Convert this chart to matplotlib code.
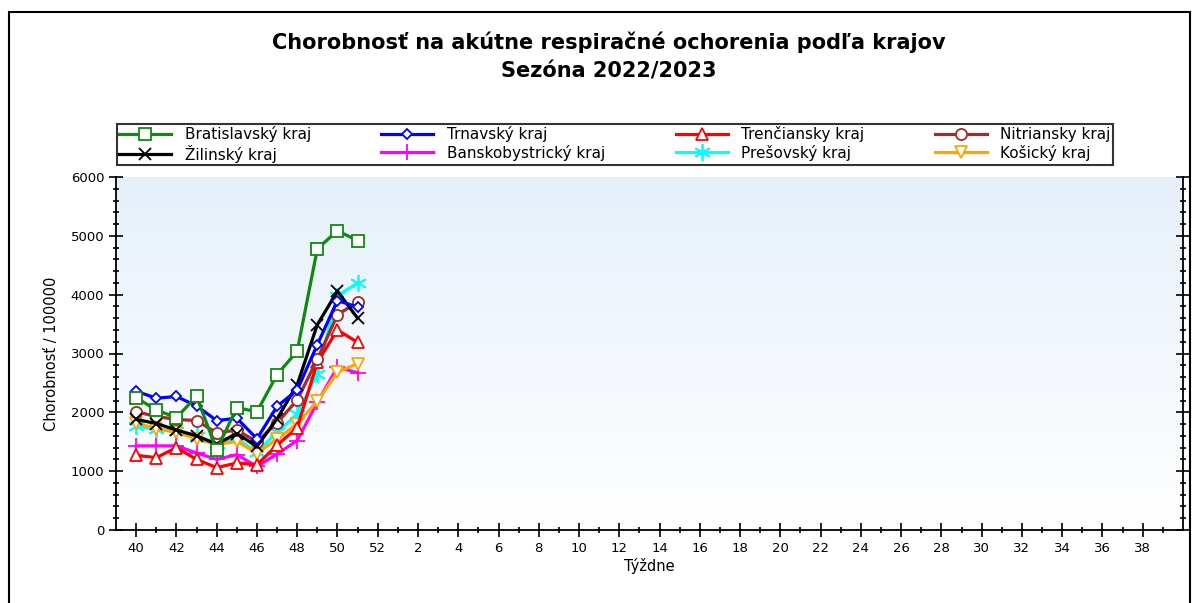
import matplotlib
matplotlib.use("Agg")
import matplotlib.pyplot as plt
import numpy as np
from matplotlib.patches import Rectangle
from matplotlib.colors import LinearSegmentedColormap

# ---- data ----
week_labels = [str(w) for w in list(range(40, 53)) + list(range(1, 40))]
regions = ["Bratislavský kraj", "Trnavský kraj", "Trenčiansky kraj", "Nitriansky kraj",
           "Žilinský kraj", "Banskobystrický kraj", "Prešovský kraj", "Košický kraj"]
bratislava = [2250, 2040, 1910, 2270, 1360, 2080, 2010, 2640, 3040, 4780, 5085, 4920]
trnava = [2360, 2240, 2270, 2110, 1860, 1900, 1550, 2100, 2380, 3150, 3900, 3790]
trencin = [1270, 1230, 1400, 1200, 1060, 1140, 1110, 1440, 1740, 2850, 3400, 3190]
nitra = [2010, 1930, 1880, 1860, 1650, 1700, 1500, 1820, 2210, 2900, 3660, 3870]
zilina = [1880, 1810, 1700, 1600, 1460, 1640, 1420, 1890, 2470, 3490, 4060, 3600]
banska = [1430, 1430, 1430, 1310, 1200, 1280, 1080, 1290, 1520, 2170, 2770, 2670]
presov = [1770, 1710, 1680, 1600, 1470, 1550, 1330, 1660, 1970, 2660, 3980, 4200]
kosice = [1820, 1720, 1660, 1550, 1450, 1510, 1300, 1550, 1800, 2190, 2680, 2830]

series = [bratislava, trnava, trencin, nitra, zilina, banska, presov, kosice]
colors = ["#118811", "#0000ff", "#ff0000", "#a52a2a", "#000000", "#ff00ff", "#00ffff", "#ffa500"]
markers = ["s", "D", "^", "o", "x", "+", (6, 2, 0), "v"]
msizes = [9, 5.5, 8.5, 8, 9, 11, 12, 8.5]
zorders = [10, 9, 5, 6, 8, 4, 3, 4]

fig = plt.figure(figsize=(11.96, 6.03), dpi=100)
fig.patch.set_facecolor("white")
fig.patches.append(Rectangle((9 / 1196, -0.01), (1190 - 9) / 1196, 1.0 - 12 / 603 + 0.01,
                             transform=fig.transFigure, fill=False, edgecolor="black", lw=1.5))

ax = fig.add_axes([116 / 1196, 1 - 530 / 603, (1183 - 116) / 1196, (530 - 177) / 603])
grad = np.linspace(0, 1, 256).reshape(-1, 1)
cmap = LinearSegmentedColormap.from_list("bg", ["#ffffff", "#e6f0fa"])
ax.imshow(grad, extent=[0, 1, 0, 1], transform=ax.transAxes, cmap=cmap,
          aspect="auto", origin="lower", zorder=0)

x = np.arange(len(week_labels))
handles = []
for name, vals, c, m, ms, z in zip(regions, series, colors, markers, msizes, zorders):
    xs = x[:len(vals)]
    filled = m not in ("x", "+", (6, 2, 0))
    h, = ax.plot(xs, vals, color=c, lw=2.3, marker=m, markersize=ms,
                 markerfacecolor="white" if filled else c, markeredgecolor=c,
                 markeredgewidth=1.3, zorder=z, label=name)
    handles.append(h)

ax.set_xlim(-1, 52)
ax.set_ylim(0, 6000)
ax.set_xticks(x[::2])
ax.set_xticklabels(week_labels[::2], fontsize=9.5)
ax.set_xticks(x, minor=True)
ax.set_yticks(np.arange(0, 6001, 1000))
ax.set_yticks(np.arange(0, 6001, 200), minor=True)
ax.tick_params(axis="y", labelsize=9.5, direction="inout", length=10, width=1.2)
ax.tick_params(axis="y", which="minor", direction="inout", length=5, width=1.2)
ax.tick_params(axis="x", labelsize=9.5, direction="inout", length=10, width=1.2)
ax.tick_params(axis="x", which="minor", direction="inout", length=5, width=1.2)
ax.tick_params(axis="y", which="both", right=True, labelright=False)
for s in ["left", "bottom", "right"]:
    ax.spines[s].set_linewidth(1.3)
ax.spines["top"].set_visible(False)

ax.set_ylabel("Chorobnosť / 100000", fontsize=10.5, labelpad=8)
ax.set_xlabel("Týždne", fontsize=10.5, labelpad=2)

fig.text(0.509, 0.93, "Chorobnosť na akútne respiračné ochorenia podľa krajov",
         ha="center", va="center", fontsize=15, fontweight="bold")
fig.text(0.509, 0.882, "Sezóna 2022/2023", ha="center", va="center", fontsize=15,
         fontweight="bold")

order = [0, 4, 1, 5, 2, 6, 3, 7]
leg = fig.legend([handles[i] for i in order], [regions[i] for i in order], ncol=4,
                 loc="lower left", bbox_to_anchor=(117 / 1196, 1 - 165 / 603, (1113 - 117) / 1196, 52 / 603),
                 mode="expand", fontsize=11, frameon=True, fancybox=False, edgecolor="black",
                 handlelength=3.4, borderaxespad=0, labelspacing=0.15, borderpad=0.15,
                 handletextpad=0.9)
leg.get_frame().set_linewidth(1.5)

fig.savefig("out.png", dpi=100)
